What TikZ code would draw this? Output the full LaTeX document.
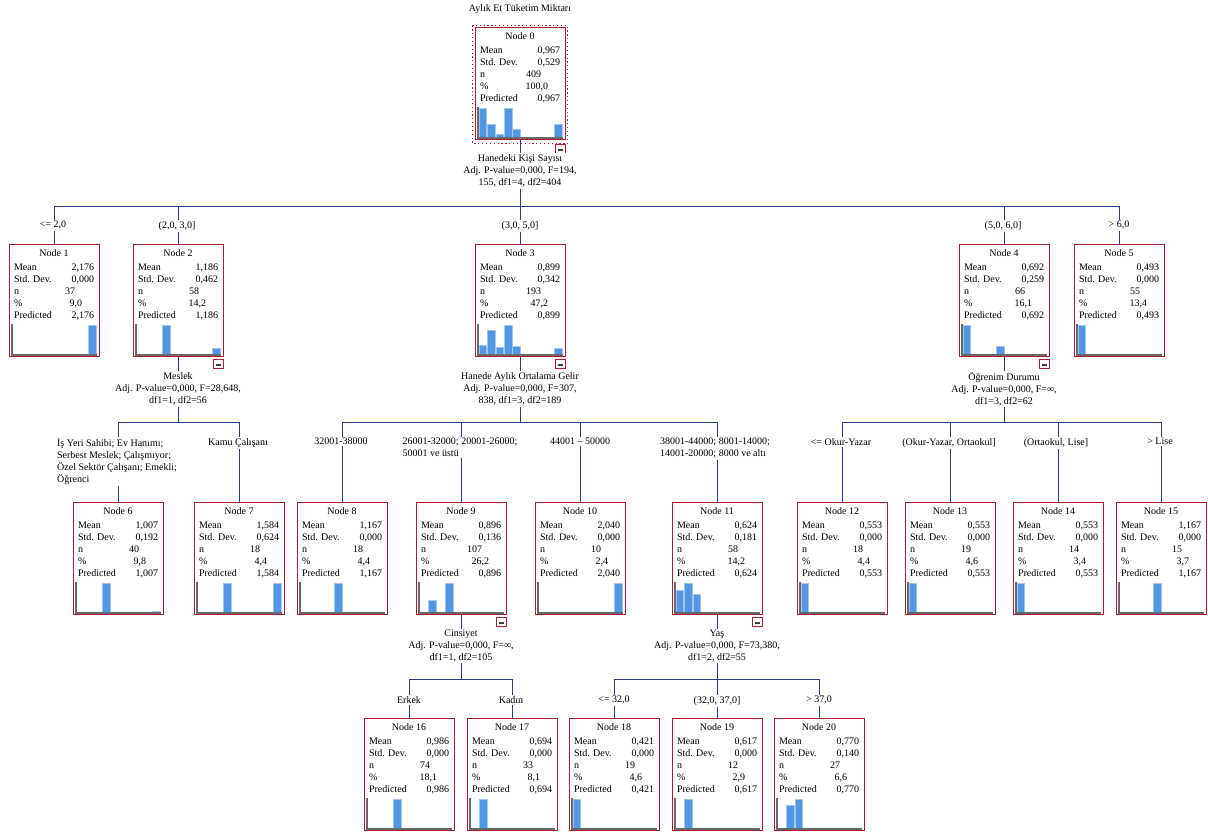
\documentclass[tikz,border=0pt]{standalone}
\usepackage{fontspec}
\setmainfont{Liberation Serif}
\usetikzlibrary{calc}
\definecolor{boxred}{RGB}{170,30,45}
\definecolor{linkblue}{RGB}{40,60,140}
\definecolor{barblue}{RGB}{82,150,228}
\definecolor{axisgray}{RGB}{105,105,105}
\tikzset{
  every node/.style={font=\fontsize{7.5}{9}\selectfont, inner sep=0pt, outer sep=0pt},
  nodebox/.style={draw=boxred, line width=0.75pt, fill=white, minimum width=67.5pt, minimum height=84pt, anchor=north west},
  lft/.style={anchor=base west},
  rgt/.style={anchor=base east},
  ctr/.style={anchor=base},
  conn/.style={draw=linkblue, line width=0.75pt},
  slabel/.style={align=center, fill=white, inner sep=1pt},
  elabel/.style={align=center, fill=white, inner sep=1pt, anchor=north},
  elabell/.style={align=left, fill=white, inner sep=1pt, anchor=north},
  barfill/.style={fill=barblue, draw=barblue!55!white, line width=0.3pt},
}
\newcommand{\treebox}[9]{%
  \begin{scope}[shift={(#2,#3)}]
    \node[nodebox] (#1) at (0,0) {};
    \node[ctr] (#1-t) at (45,12) {Node #4};
    \node[lft] (#1-a) at (5,26) {Mean};
    \node[rgt] (#1-b) at (85,26) {#5};
    \node[lft] (#1-c) at (5,38) {Std. Dev.};
    \node[rgt] (#1-d) at (85,38) {#6};
    \node[lft] (#1-e) at (5,50) {n};
    \node[rgt] (#1-f) at (66,50) {#7};
    \node[lft] (#1-g) at (5,62) {\%};
    \node[rgt] (#1-h) at (73,62) {#8};
    \node[lft] (#1-i) at (5,74) {Predicted};
    \node[rgt] (#1-j) at (85,74) {#5};
    \foreach \b/\h in {#9} {\path[barfill] ({4+8.4*\b},109.5) rectangle ({11.5+8.4*\b},{109.5-29*\h});}
    \draw[axisgray, line width=0.9pt] (3,79) -- (3,110) -- (88,110);
  \end{scope}}
\newcommand{\minusicon}[2]{%
  \draw[boxred, line width=0.7pt, fill=white] ($(#1.south east)+(-10,#2)$) rectangle ($(#1.south east)+(0,#2+9)$);
  \draw[black!75, line width=0.9pt] ($(#1.south east)+(-7.5,#2+6)$) -- ($(#1.south east)+(-2.5,#2+6)$);}
\begin{document}
\begin{tikzpicture}[x=0.75pt,y=-0.75pt]
\useasboundingbox[fill=white] (0,0) rectangle (1208,837);

\node (title) at (520,9) {Aylık Et Tüketim Miktarı};

% ---------- boxes ----------
\treebox{n0}{475}{28}{0}{0,967}{0,529}{409}{100,0}{0/1,1/0.47,2/0.12,3/1,4/0.28,9/0.47}
\treebox{n1}{9}{245}{1}{2,176}{0,000}{37}{9,0}{9/1}
\treebox{n2}{133}{245}{2}{1,186}{0,462}{58}{14,2}{3/1,9/0.23}
\treebox{n3}{475}{245}{3}{0,899}{0,342}{193}{47,2}{0/0.31,1/0.83,2/0.25,3/1,4/0.29,9/0.2}
\treebox{n4}{959}{245}{4}{0,692}{0,259}{66}{16,1}{0/1,4/0.3}
\treebox{n5}{1074}{245}{5}{0,493}{0,000}{55}{13,4}{0/1}
\treebox{n6}{73}{503}{6}{1,007}{0,192}{40}{9,8}{3/1,9/0.05}
\treebox{n7}{194}{503}{7}{1,584}{0,624}{18}{4,4}{3/1,9/1}
\treebox{n8}{297}{503}{8}{1,167}{0,000}{18}{4,4}{4/1}
\treebox{n9}{416}{503}{9}{0,896}{0,136}{107}{26,2}{1/0.43,3/1}
\treebox{n10}{535}{503}{10}{2,040}{0,000}{10}{2,4}{9/1}
\treebox{n11}{672}{503}{11}{0,624}{0,181}{58}{14,2}{0/0.78,1/1,2/0.62}
\treebox{n12}{797}{503}{12}{0,553}{0,000}{18}{4,4}{0/1}
\treebox{n13}{905}{503}{13}{0,553}{0,000}{19}{4,6}{0/1}
\treebox{n14}{1013}{503}{14}{0,553}{0,000}{14}{3,4}{0/1}
\treebox{n15}{1116}{503}{15}{1,167}{0,000}{15}{3,7}{4/1}
\treebox{n16}{364}{719}{16}{0,986}{0,000}{74}{18,1}{3/1}
\treebox{n17}{467}{719}{17}{0,694}{0,000}{33}{8,1}{1/1}
\treebox{n18}{569}{719}{18}{0,421}{0,000}{19}{4,6}{0/1}
\treebox{n19}{672}{719}{19}{0,617}{0,000}{12}{2,9}{1/1}
\treebox{n20}{774}{719}{20}{0,770}{0,140}{27}{6,6}{1/0.8,2/1}

% selection frame of node 0
\draw[boxred, dotted, line width=0.9pt] ($(n0.north west)+(-2.5,-2.5)$) rectangle ($(n0.south east)+(2.5,3.5)$);

% minus icons
\minusicon{n0}{4}
\minusicon{n2}{2}
\minusicon{n3}{2}
\minusicon{n4}{2}
\minusicon{n9}{2}
\minusicon{n11}{2}

% ---------- split labels ----------
\node[slabel] (s0) at (520,171) {Hanedeki Kişi Sayısı\\Adj. P-value=0,000, F=194,\\155, df1=4, df2=404};
\node[slabel] (s2) at (178,389) {Meslek\\Adj. P-value=0,000, F=28,648,\\df1=1, df2=56};
\node[slabel] (s3) at (520,389) {Hanede Aylık Ortalama Gelir\\Adj. P-value=0,000, F=307,\\838, df1=3, df2=189};
\node[slabel] (s4) at (1004,389) {Öğrenim Durumu\\Adj. P-value=0,000, F=∞,\\df1=3, df2=62};
\node[slabel] (s9) at (461,646) {Cinsiyet\\Adj. P-value=0,000, F=∞,\\df1=1, df2=105};
\node[slabel] (s11) at (717,646) {Yaş\\Adj. P-value=0,000, F=73,380,\\df1=2, df2=55};

% ---------- connectors ----------
\coordinate (b0) at (520,207);
\coordinate (b2) at (178,423);
\coordinate (b3) at (520,423);
\coordinate (b4) at (1004,423);
\coordinate (b9) at (461,680);
\coordinate (b11) at (717,680);

\draw[conn] (n0.south) -- (s0.north);
\draw[conn] (s0.south) -- (b0);
\foreach \c in {n1,n2,n3,n4,n5} {\draw[conn] (b0) -| (\c.north);}

\draw[conn] (n2.south) -- (s2.north);
\draw[conn] (s2.south) -- (b2);
\foreach \c in {n6,n7} {\draw[conn] (b2) -| (\c.north);}

\draw[conn] (n3.south) -- (s3.north);
\draw[conn] (s3.south) -- (b3);
\foreach \c in {n8,n9,n10,n11} {\draw[conn] (b3) -| (\c.north);}

\draw[conn] (n4.south) -- (s4.north);
\draw[conn] (s4.south) -- (b4);
\foreach \c in {n12,n13,n14,n15} {\draw[conn] (b4) -| (\c.north);}

\draw[conn] (n9.south) -- (s9.north);
\draw[conn] (s9.south) -- (b9);
\foreach \c in {n16,n17} {\draw[conn] (b9) -| (\c.north);}

\draw[conn] (n11.south) -- (s11.north);
\draw[conn] (s11.south) -- (b11);
\foreach \c in {n18,n19,n20} {\draw[conn] (b11) -| (\c.north);}

% ---------- edge labels ----------
\node[elabel] (e1) at (53,220) {<= 2,0};
\node[elabel] (e2) at (177,220) {(2,0, 3,0]};
\node[elabel] (e3) at (520,220) {(3,0, 5,0]};
\node[elabel] (e4) at (1003,220) {(5,0, 6,0]};
\node[elabel] (e5) at (1119,220) {> 6,0};

\node[elabell] (e6) at (117,437) {İş Yeri Sahibi; Ev Hanımı;\\Serbest Meslek; Çalışmıyor;\\Özel Sektör Çalışanı; Emekli;\\Öğrenci};
\node[elabel] (e7) at (238,437) {Kamu Çalışanı};
\node[elabel] (e8) at (341,437) {32001-38000};
\node[elabell] (e9) at (460,437) {26001-32000; 20001-26000;\\50001 ve üstü};
\node[elabel] (e10) at (580,437) {44001 – 50000};
\node[elabell] (e11) at (715,437) {38001-44000; 8001-14000;\\14001-20000; 8000 ve altı};
\node[elabel] (e12) at (841,437) {<= Okur-Yazar};
\node[elabel] (e13) at (949,437) {(Okur-Yazar, Ortaokul]};
\node[elabel] (e14) at (1056,437) {(Ortaokul, Lise]};
\node[elabel] (e15) at (1160,437) {> Lise};

\node[elabel] (e16) at (409,695) {Erkek};
\node[elabel] (e17) at (511,695) {Kadın};
\node[elabel] (e18) at (614,695) {<= 32,0};
\node[elabel] (e19) at (717,695) {(32,0, 37,0]};
\node[elabel] (e20) at (819,695) {> 37,0};
\end{tikzpicture}
\end{document}
